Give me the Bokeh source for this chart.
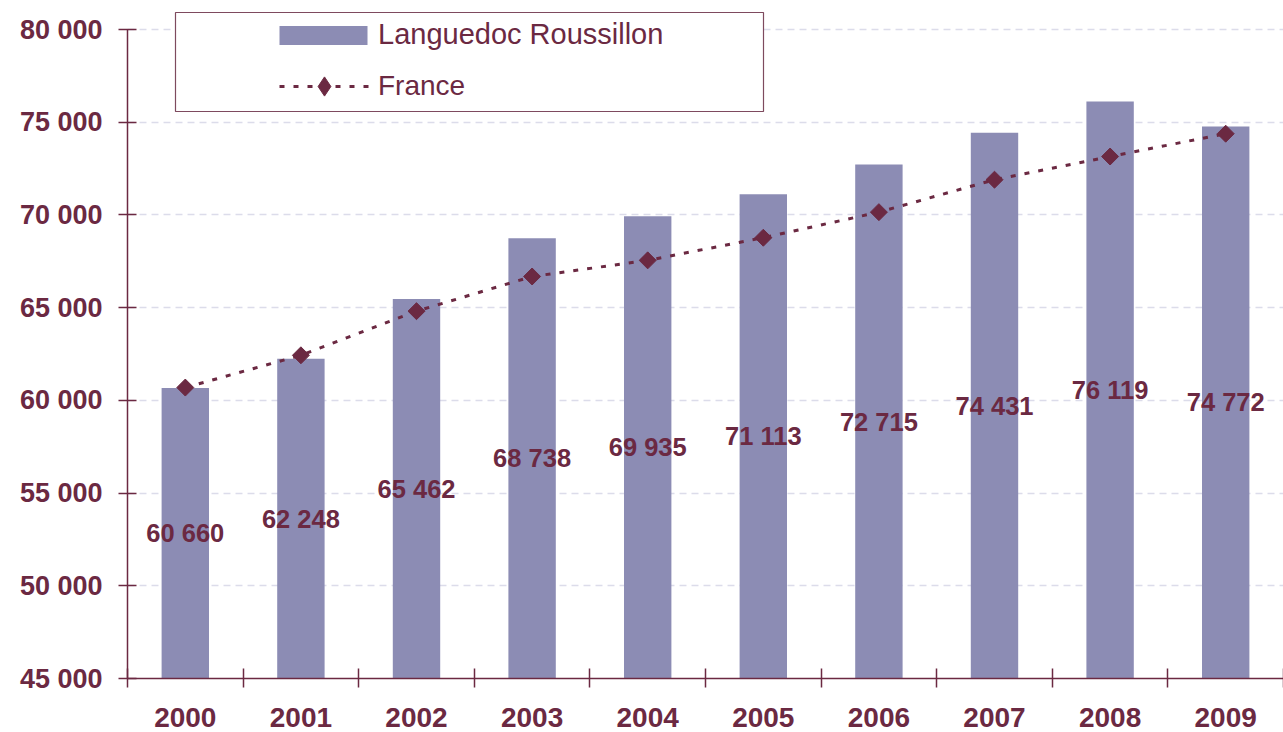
import math
from bokeh.plotting import figure
from bokeh.models import (FixedTicker, Legend, LegendItem, BoxAnnotation,
                          ColumnDataSource, Range1d)
from bokeh.core.properties import value
from bokeh.embed import file_html
from bokeh.resources import INLINE

years = ["2000", "2001", "2002", "2003", "2004", "2005", "2006", "2007", "2008", "2009"]
lr_values = [60660, 62248, 65462, 68738, 69935, 71113, 72715, 74431, 76119, 74772]
france_values = [60690, 62430, 64810, 66680, 67550, 68770, 70150, 71900, 73150, 74380]
lr_labels = ["60 660", "62 248", "65 462", "68 738", "69 935",
             "71 113", "72 715", "74 431", "76 119", "74 772"]
y_ticks = [45000, 50000, 55000, 60000, 65000, 70000, 75000, 80000]
y_tick_labels = ["45 000", "50 000", "55 000", "60 000", "65 000", "70 000", "75 000", "80 000"]

MAROON = "#6B2942"
BAR = "#8C8CB4"
GRID = "#DCDCEA"
BOXLINE = "#7E4A5E"
FONT = "Liberation Sans"

y_min, y_max = y_ticks[0], y_ticks[-1]
# frame extends 18px above the top tick so the legend frame is not clipped
plot_px = 649
y_view_max = y_max + (y_max - y_min) * 18 / plot_px

xc = [i + 0.5 for i in range(len(years))]
label_y = [(y_min + v) / 2 for v in lr_values]

src = ColumnDataSource(dict(x=xc, lr=lr_values, fr=france_values,
                            lab=lr_labels, ly=label_y))

p = figure(width=1283, height=732, output_backend="svg", toolbar_location=None,
           x_range=Range1d(0, len(years)), y_range=Range1d(y_min, y_view_max),
           min_border_left=127, min_border_right=0, min_border_top=11,
           min_border_bottom=54)
p.outline_line_color = None
p.background_fill_color = "white"

bars = p.vbar(x="x", top="lr", bottom=y_min, width=0.41, source=src,
              fill_color=BAR, line_color=None)
line = p.line(x="x", y="fr", source=src, line_color=MAROON, line_width=3,
              line_dash="5 9")
pts = p.scatter(x="x", y="fr", source=src, marker="square", size=12,
                angle=math.pi / 4, fill_color=MAROON, line_color=MAROON)
# legend-only symbol (a single undrawn point)
leg_marker = p.scatter(x=[float("nan")], y=[float("nan")], marker="diamond",
                       fill_color=MAROON, line_color=MAROON)
p.text(x="x", y="ly", text="lab", source=src, text_align="center",
       text_baseline="middle", text_color=MAROON, text_font=value(FONT),
       text_font_size="25.5px", text_font_style="bold")

# y axis
p.yaxis.ticker = FixedTicker(ticks=y_ticks)
p.yaxis.bounds = (y_min, y_max)
p.yaxis.major_label_overrides = {t: l for t, l in zip(y_ticks, y_tick_labels)}
p.yaxis.axis_line_color = MAROON
p.yaxis.axis_line_width = 1.5
p.yaxis.major_tick_line_color = MAROON
p.yaxis.major_tick_line_width = 1.5
p.yaxis.major_tick_in = 9
p.yaxis.major_tick_out = 9
p.yaxis.minor_tick_line_color = None
p.yaxis.major_label_text_font = FONT
p.yaxis.major_label_text_font_size = "27px"
p.yaxis.major_label_text_font_style = "bold"
p.yaxis.major_label_text_color = MAROON
p.yaxis.major_label_standoff = 16

# x axis: labels at centers, ticks at category boundaries (minor ticks)
p.xaxis.ticker = FixedTicker(ticks=xc, minor_ticks=list(range(len(years) + 1)))
p.xaxis.major_label_overrides = {c: y for c, y in zip(xc, years)}
p.xaxis.axis_line_color = MAROON
p.xaxis.axis_line_width = 1.5
p.xaxis.major_tick_line_color = None
p.xaxis.major_tick_in = 0
p.xaxis.major_tick_out = 9
p.xaxis.minor_tick_line_color = MAROON
p.xaxis.minor_tick_line_width = 1.5
p.xaxis.minor_tick_in = 10
p.xaxis.minor_tick_out = 9
p.xaxis.major_label_text_font = FONT
p.xaxis.major_label_text_font_size = "28px"
p.xaxis.major_label_text_font_style = "bold"
p.xaxis.major_label_text_color = MAROON
p.xaxis.major_label_standoff = 20

p.xgrid.grid_line_color = None
p.ygrid.grid_line_color = GRID
p.ygrid.grid_line_width = 1.5
p.ygrid.grid_line_dash = "7 5"

# legend frame
box = BoxAnnotation(left=48, right=636, top=666, bottom=567,
                    left_units="screen", right_units="screen",
                    top_units="screen", bottom_units="screen",
                    fill_color="white", fill_alpha=1.0,
                    line_color=BOXLINE, line_alpha=1.0, line_width=1.2,
                    level="overlay")
p.add_layout(box)

leg1 = Legend(items=[LegendItem(label="Languedoc Roussillon", renderers=[bars])],
              location=(141, 627), glyph_width=110, glyph_height=24,
              label_height=24, label_standoff=0, padding=0, margin=0,
              border_line_color=None, background_fill_alpha=0,
              label_text_font=FONT, label_text_font_size="29px",
              label_text_color=MAROON)
leg2 = Legend(items=[LegendItem(label="France", renderers=[line, leg_marker])],
              location=(152, 568), glyph_width=90, glyph_height=48,
              label_height=48, label_standoff=9, padding=0, margin=0,
              border_line_color=None, background_fill_alpha=0,
              label_text_font=FONT, label_text_font_size="28px",
              label_text_color=MAROON)
p.add_layout(leg1)
p.add_layout(leg2)

open("out.html", "w").write(file_html(p, INLINE))
